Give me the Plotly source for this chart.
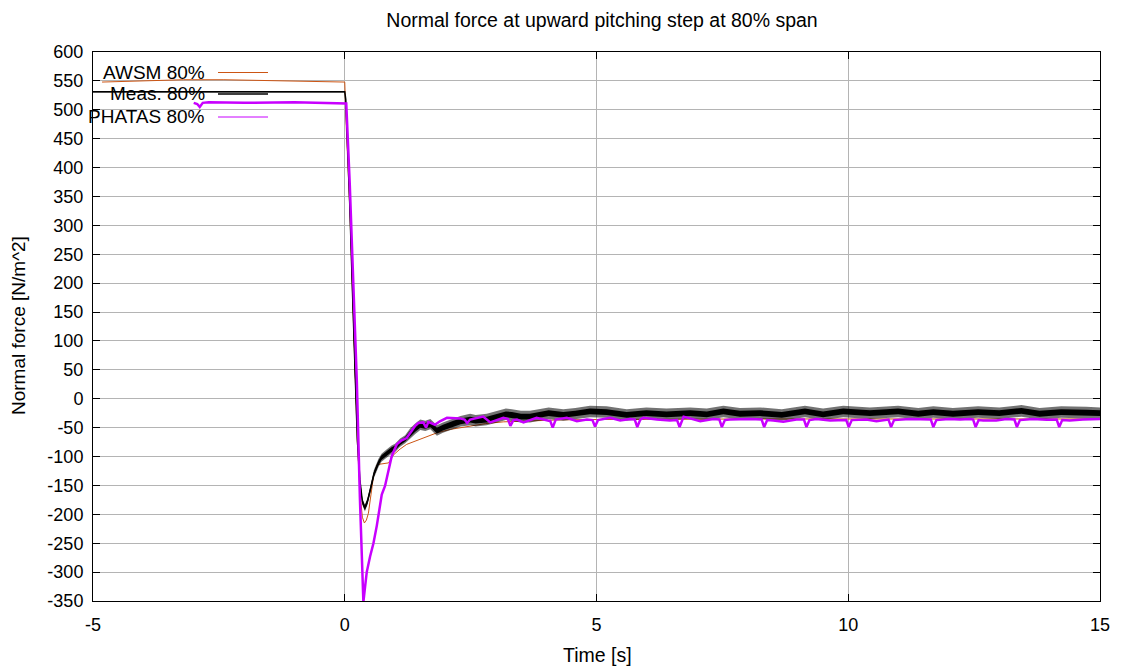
import plotly.graph_objects as go

# ---- AWSM 80% (free-wake simulation) ----
awsm_t = [-4.82, -4.0, -3.2, -2.4, -1.6, -0.8, 0.0, 0.03, 0.1, 0.15, 0.2, 0.25, 0.3,
          0.35, 0.39, 0.43, 0.47, 0.52, 0.57, 0.64, 0.75, 0.87, 0.97, 1.1, 1.23, 1.5,
          1.83, 2.1, 2.49, 2.8, 3.15, 3.42, 3.8, 4.3, 5.0, 6.0, 8.0, 10.0, 12.0, 15.0]
awsm_v = [548, 550, 552, 552, 551, 549, 548, 470, 330, 195, 45, -75, -160,
          -205, -215, -210, -198, -165, -135, -114, -113, -111, -97, -87, -79, -70,
          -59, -53, -47, -43, -40, -39, -37.5, -36.5, -36, -35.5, -35, -35, -35, -35]

# ---- Measured 80% (centre of the noisy signal, core and peak noise half-widths) ----
meas_t = [-5.0, 0.0, 0.02, 0.06, 0.1, 0.15, 0.2, 0.25, 0.3, 0.35, 0.4, 0.45, 0.5,
          0.58, 0.67, 0.73, 0.83, 0.93, 1.0, 1.1, 1.2, 1.3, 1.4, 1.5, 1.6, 1.7,
          1.83, 1.95, 2.16, 2.3, 2.49, 2.6, 2.82, 2.95, 3.2, 3.32, 3.5, 3.68, 4.05,
          4.34, 4.58, 4.87, 5.2, 5.6, 5.99, 6.39, 6.86, 7.19, 7.52, 7.85, 8.25,
          8.68, 9.14, 9.5, 9.9, 10.43, 10.99, 11.39, 11.69, 12.08, 12.58, 13.0,
          13.44, 13.8, 14.23, 14.73, 15.0]
meas_v = [531, 531, 518, 440, 335, 195, 45, -70, -140, -178, -189, -178, -160,
          -130, -111, -102, -95, -88, -85, -76, -70, -60, -52, -45, -47, -44,
          -55, -50, -43, -39, -36, -38, -36, -33, -27, -28, -31, -31, -25,
          -28, -26, -22, -23, -28, -25, -27, -25, -27, -22, -26, -25,
          -28, -22, -27, -22, -25, -22, -26, -23, -26, -23, -25,
          -21, -26, -23, -24, -25]
meas_core = [0.5, 0.5, 2, 3, 3, 3, 3, 3, 3, 4, 4, 4, 4,
             4, 4, 4, 4, 4, 4, 4, 4, 5, 5, 5, 5, 5,
             5, 5, 5, 5, 5, 5, 5, 5, 5, 5, 5, 5, 5,
             5, 5, 5, 5, 5, 5, 5, 5, 5, 5, 5, 5,
             5, 5, 5, 5, 5, 5, 5, 5, 5, 5, 5,
             5, 5, 5, 5, 5]
meas_peak = [0.5, 0.5, 3, 4, 4, 4, 4, 4, 4, 6, 6, 6, 6,
             7, 7, 7, 7, 7, 7, 7, 7, 9, 9, 9, 9, 9,
             9, 9, 9, 9, 10, 10, 10, 10, 10, 10, 10, 10, 10,
             10, 10, 10, 10, 10, 10, 10, 10, 10, 10, 10, 10,
             10, 10, 10, 10, 10, 10, 10, 10, 10, 10, 10,
             10, 10, 10, 10, 10]

# ---- PHATAS 80% (BEM simulation, with the once-per-revolution dips) ----
phatas_t = [-3.0, -2.93, -2.88, -2.82, -2.7, -2.0, -1.0, -0.5, 0.0, 0.03, 0.1, 0.2,
            0.24, 0.3, 0.37, 0.404, 0.437, 0.503, 0.57, 0.636, 0.702, 0.735, 0.80,
            0.868, 0.934, 1.033, 1.13, 1.23, 1.3, 1.4, 1.46, 1.56, 1.616, 1.66,
            1.79, 1.89, 2.03, 2.29, 2.38, 2.43, 2.49, 2.56, 2.75, 2.89, 3.15,
            3.24, 3.29, 3.35, 3.42, 3.55, 3.81, 4.05, 4.08, 4.13, 4.19, 4.41, 4.61,
            4.81, 4.92, 4.97, 5.03, 5.27, 5.47, 5.67, 5.76, 5.81, 5.87, 5.93, 6.2,
            6.46, 6.6, 6.65, 6.71, 6.73, 7.06, 7.32, 7.44, 7.49, 7.55, 7.65, 8.05,
            8.28, 8.33, 8.39, 8.51, 8.71, 8.97, 9.12, 9.17, 9.23, 9.37, 9.64, 9.96,
            10.01, 10.07, 10.36, 10.56, 10.76, 10.80, 10.85, 10.91, 11.22, 11.55,
            11.64, 11.69, 11.75, 12.0, 12.22, 12.42, 12.48, 12.53, 12.59, 12.68,
            12.94, 13.14, 13.30, 13.35, 13.41, 13.67, 13.94, 14.14, 14.19, 14.25,
            14.4, 14.66, 14.93, 15.0]
phatas_v = [512, 510, 505, 512, 513, 512, 513, 512, 512, 511, 370, 130,
            30, -170, -352, -325, -300, -273, -250, -220, -186, -166, -151,
            -122, -99, -79, -72, -68, -59, -47, -42, -41, -50, -40,
            -45, -39, -33, -34, -36, -42, -36, -35, -31, -41, -33,
            -35, -47, -37, -36, -41, -33, -38, -38, -50, -36, -33, -39,
            -36, -37, -48, -37, -33, -37.5, -35, -36, -49, -36, -33, -36,
            -37.5, -37, -49, -34, -31, -39, -35, -36, -49, -37, -36, -35,
            -36, -49, -37, -37.5, -40, -36, -36, -49, -37, -35, -37.5, -37,
            -49, -37, -36, -39, -36, -36, -49, -37, -35, -36,
            -36, -49, -37, -35, -36, -35, -36, -49, -37, -37.5,
            -37.5, -35, -36, -49, -37, -35, -36.5, -36, -49, -37,
            -37.5, -36, -35, -35]

x_ticks = [-5, 0, 5, 10, 15]
y_ticks = list(range(-350, 601, 50))

AWSM_COLOR = "#cc5514"
MEAS_COLOR = "#000000"
PHATAS_COLOR = "#c800ff"
FONT = "Liberation Sans, Arial, sans-serif"

fig = go.Figure()

# measured noise envelopes
peak_hi = [v + p for v, p in zip(meas_v, meas_peak)]
peak_lo = [v - p for v, p in zip(meas_v, meas_peak)]
core_hi = [v + c for v, c in zip(meas_v, meas_core)]
core_lo = [v - c for v, c in zip(meas_v, meas_core)]

fig.add_trace(go.Scatter(x=awsm_t, y=awsm_v, mode="lines",
                         line=dict(color=AWSM_COLOR, width=1), showlegend=False))
fig.add_trace(go.Scatter(x=meas_t + meas_t[::-1], y=peak_hi + peak_lo[::-1],
                         mode="lines", fill="toself", fillcolor="rgba(0,0,0,0.55)",
                         line=dict(width=0), showlegend=False, hoverinfo="skip"))
fig.add_trace(go.Scatter(x=meas_t + meas_t[::-1], y=core_hi + core_lo[::-1],
                         mode="lines", fill="toself", fillcolor="rgba(0,0,0,1)",
                         line=dict(width=0), showlegend=False, hoverinfo="skip"))
fig.add_trace(go.Scatter(x=meas_t, y=meas_v, mode="lines",
                         line=dict(color=MEAS_COLOR, width=1.5), showlegend=False))
fig.add_trace(go.Scatter(x=phatas_t, y=phatas_v, mode="lines",
                         line=dict(color=PHATAS_COLOR, width=2.5), showlegend=False))

# key in the upper left corner: label text followed by a line sample
PLOT_L, PLOT_W, PLOT_B, PLOT_H = 93, 1007, 601, 549
key = [("AWSM 80%", AWSM_COLOR, 1, 72.5),
       ("Meas. 80%", MEAS_COLOR, 1.5, 94),
       ("PHATAS 80%", PHATAS_COLOR, 1, 117)]
for label, color, width, ypx in key:
    yp = (PLOT_B - ypx) / PLOT_H
    fig.add_annotation(x=(207 - PLOT_L) / PLOT_W, y=yp, xref="paper", yref="paper",
                       text=label, showarrow=False, xanchor="right", yanchor="middle",
                       font=dict(family=FONT, size=19, color="#000000"))
    fig.add_shape(type="line", xref="paper", yref="paper",
                  x0=(218 - PLOT_L) / PLOT_W, x1=(268 - PLOT_L) / PLOT_W, y0=yp, y1=yp,
                  line=dict(color=color, width=width))

# axis titles
fig.add_annotation(x=(597 - PLOT_L) / PLOT_W, y=(PLOT_B - 655) / PLOT_H,
                   xref="paper", yref="paper",
                   text="Time [s]", showarrow=False, xanchor="center", yanchor="middle",
                   font=dict(family=FONT, size=19.5, color="#000000"))
fig.add_annotation(x=(18 - PLOT_L) / PLOT_W, y=(PLOT_B - 326) / PLOT_H,
                   xref="paper", yref="paper",
                   text="Normal force [N/m^2]", showarrow=False, textangle=-90,
                   xanchor="center", yanchor="middle",
                   font=dict(family=FONT, size=19, color="#000000"))

axis_common = dict(showgrid=True, gridcolor="#b4b4b4", gridwidth=1, zeroline=False,
                   showline=True, linecolor="#000000", linewidth=1, mirror="ticks",
                   ticks="inside", ticklen=7, tickcolor="#000000",
                   tickfont=dict(family=FONT, size=18, color="#000000"))

fig.update_xaxes(range=[-5, 15], tickvals=x_ticks, ticktext=[str(v) for v in x_ticks],
                 ticklabelstandoff=7, **axis_common)
fig.update_yaxes(range=[-350, 600], tickvals=y_ticks, ticktext=[str(v) for v in y_ticks],
                 ticklabelstandoff=5, **axis_common)

fig.update_layout(
    width=1123, height=669,
    margin=dict(l=93, r=23, t=52, b=68),
    paper_bgcolor="#ffffff", plot_bgcolor="#ffffff",
    title=dict(text="Normal force at upward pitching step at 80% span",
               x=(602 - PLOT_L) / PLOT_W, xref="paper", xanchor="center",
               y=1 - 20 / 669, yref="container", yanchor="middle",
               font=dict(family=FONT, size=19.5, color="#000000")),
    showlegend=False,
)

fig.write_html("out.html")
